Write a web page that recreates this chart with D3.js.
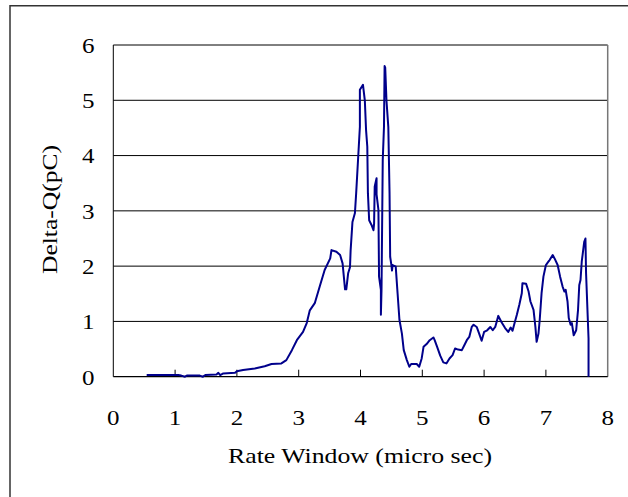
<!DOCTYPE html>
<html>
<head>
<meta charset="utf-8">
<script src="https://cdn.jsdelivr.net/npm/d3@7"></script>
<style>
  body { margin: 0; background: #fff; }
  svg { display: block; }
</style>
</head>
<body>
<svg id="chart" width="628" height="497"></svg>
<script>
// rate window (micro sec)
const rateWindow = [0.54,1.05,1.10,1.16,1.19,1.40,1.45,1.49,1.67,1.70,1.73,1.78,1.97,2.00,2.10,2.29,2.45,2.56,2.72,2.80,2.89,2.97,3.07,3.13,3.18,3.26,3.34,3.42,3.51,3.53,3.61,3.67,3.71,3.75,3.77,3.80,3.83,3.84,3.87,3.91,3.93,3.96,3.99,3.99,4.04,4.07,4.09,4.11,4.12,4.14,4.18,4.21,4.22,4.23,4.26,4.26,4.29,4.30,4.33,4.33,4.34,4.36,4.38,4.39,4.40,4.42,4.45,4.47,4.48,4.50,4.51,4.52,4.57,4.60,4.63,4.67,4.70,4.75,4.79,4.82,4.91,4.95,4.99,5.02,5.07,5.12,5.18,5.20,5.24,5.29,5.34,5.39,5.44,5.49,5.53,5.58,5.64,5.68,5.72,5.76,5.80,5.83,5.88,5.92,5.96,6.00,6.05,6.10,6.14,6.18,6.23,6.28,6.34,6.39,6.43,6.46,6.49,6.53,6.57,6.61,6.62,6.68,6.72,6.75,6.80,6.83,6.85,6.88,6.90,6.93,6.96,7.00,7.04,7.06,7.11,7.14,7.19,7.23,7.27,7.30,7.32,7.35,7.37,7.40,7.42,7.45,7.49,7.52,7.54,7.56,7.58,7.62,7.64,7.65,7.69,7.69];
// delta-Q (pC)
const deltaQ = [0.03,0.03,0.02,0.00,0.02,0.02,0.00,0.03,0.04,0.07,0.03,0.06,0.07,0.10,0.12,0.15,0.19,0.23,0.24,0.30,0.48,0.66,0.81,0.97,1.20,1.33,1.63,1.93,2.14,2.29,2.26,2.20,2.05,1.58,1.58,1.87,1.98,2.28,2.80,2.96,3.32,3.92,4.52,5.19,5.28,5.00,4.46,4.16,3.32,2.83,2.74,2.65,2.77,3.44,3.59,3.30,3.02,1.81,1.57,1.12,1.57,3.92,4.52,5.62,5.59,5.00,4.52,3.32,2.17,2.02,1.92,2.02,1.99,1.51,1.03,0.78,0.48,0.30,0.18,0.23,0.23,0.18,0.33,0.54,0.59,0.66,0.71,0.66,0.54,0.38,0.26,0.24,0.33,0.39,0.51,0.49,0.48,0.57,0.66,0.72,0.90,0.94,0.90,0.78,0.65,0.81,0.84,0.90,0.84,0.90,1.10,0.99,0.88,0.81,0.89,0.83,0.96,1.12,1.30,1.51,1.69,1.68,1.54,1.36,1.21,0.90,0.63,0.78,1.03,1.51,1.81,2.02,2.08,2.11,2.20,2.14,2.02,1.81,1.63,1.54,1.57,1.36,1.06,0.94,0.97,0.75,0.84,1.21,1.66,1.75,2.08,2.44,2.50,1.87,0.69,0.00];

const xTicks = [0,1,2,3,4,5,6,7,8];
const yTicks = [0,1,2,3,4,5,6];

const svg = d3.select('#chart');
const font = 'Liberation Serif, Times New Roman, serif';

const x = d3.scaleLinear().domain([0, 8]).range([113.3, 607.7]);
const y = d3.scaleLinear().domain([0, 6]).range([376.7, 45]);

// outer frame
svg.append('path')
  .attr('d', 'M10,600 L10,5.8 L700,5.8')
  .attr('fill', 'none')
  .attr('stroke', '#333')
  .attr('stroke-width', 1.5);

// gridlines
svg.append('g')
  .selectAll('line')
  .data(yTicks.slice(1))
  .join('line')
  .attr('x1', x(0))
  .attr('x2', x(8))
  .attr('y1', d => y(d))
  .attr('y2', d => y(d))
  .attr('stroke', '#000')
  .attr('stroke-width', 1);

// right border of plot
svg.append('line')
  .attr('x1', x(8)).attr('x2', x(8))
  .attr('y1', y(6)).attr('y2', y(0))
  .attr('stroke', '#777')
  .attr('stroke-width', 1.5);

// axes
svg.append('line')
  .attr('x1', x(0)).attr('x2', x(0))
  .attr('y1', y(6)).attr('y2', y(0))
  .attr('stroke', '#000');

svg.append('line')
  .attr('x1', x(0)).attr('x2', x(8))
  .attr('y1', y(0)).attr('y2', y(0))
  .attr('stroke', '#000')
  .attr('stroke-width', 1.3);

// x ticks (inside)
svg.append('g')
  .selectAll('line')
  .data(xTicks.slice(1, -1))
  .join('line')
  .attr('x1', d => x(d))
  .attr('x2', d => x(d))
  .attr('y1', y(0))
  .attr('y2', y(0) - 7)
  .attr('stroke', '#000');

// tick labels
svg.append('g')
  .selectAll('text')
  .data(yTicks)
  .join('text')
  .attr('x', 94.5)
  .attr('y', d => y(d) + 7.8)
  .attr('text-anchor', 'end')
  .attr('font-family', font)
  .attr('font-size', '22px')
  .attr('textLength', 12.5)
  .attr('lengthAdjust', 'spacingAndGlyphs')
  .attr('fill', '#000')
  .text(d => d);

svg.append('g')
  .selectAll('text')
  .data(xTicks)
  .join('text')
  .attr('x', d => x(d))
  .attr('y', 424.5)
  .attr('text-anchor', 'middle')
  .attr('font-family', font)
  .attr('font-size', '22px')
  .attr('textLength', 12.5)
  .attr('lengthAdjust', 'spacingAndGlyphs')
  .attr('fill', '#000')
  .text(d => d);

// axis titles
svg.append('text')
  .attr('x', 360)
  .attr('y', 463)
  .attr('text-anchor', 'middle')
  .attr('font-family', font)
  .attr('font-size', '21px')
  .attr('textLength', 264)
  .attr('lengthAdjust', 'spacingAndGlyphs')
  .text('Rate Window (micro sec)');

svg.append('text')
  .attr('transform', 'translate(57,209.5) rotate(-90)')
  .attr('text-anchor', 'middle')
  .attr('font-family', font)
  .attr('font-size', '21px')
  .attr('textLength', 129)
  .attr('lengthAdjust', 'spacingAndGlyphs')
  .text('Delta-Q(pC)');

// data line
const points = rateWindow.map((r, i) => [r, deltaQ[i]]);
const line = d3.line()
  .x(d => x(d[0]))
  .y(d => y(d[1]));

svg.append('path')
  .datum(points)
  .attr('d', line)
  .attr('fill', 'none')
  .attr('stroke', '#00008B')
  .attr('stroke-width', 2)
  .attr('stroke-linejoin', 'round');
</script>
</body>
</html>
